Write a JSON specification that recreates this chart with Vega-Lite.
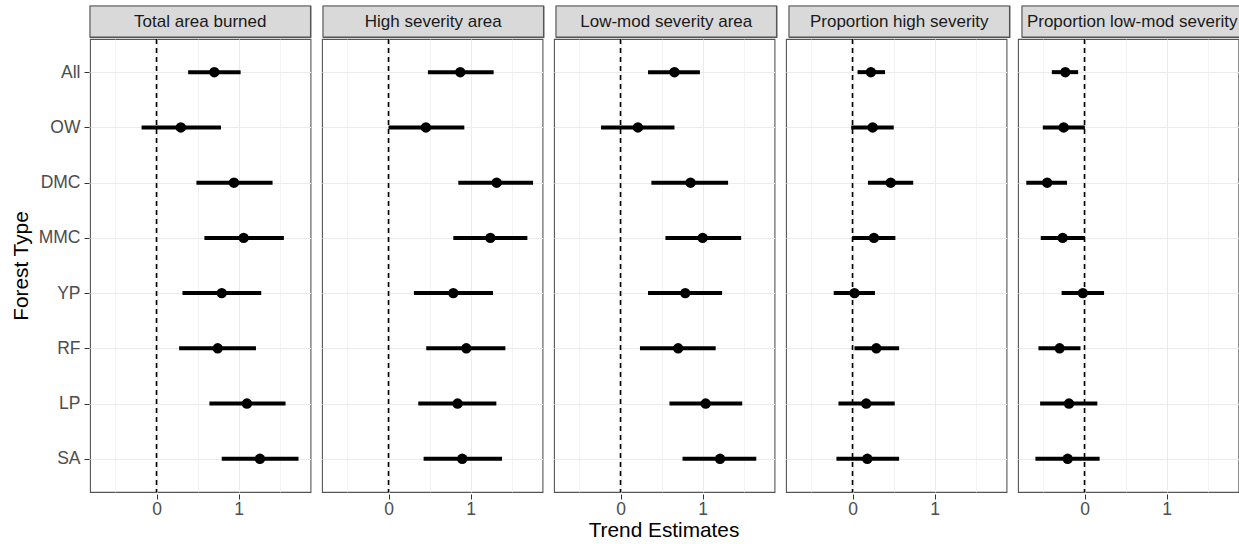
{
  "$schema": "https://vega.github.io/schema/vega-lite/v6.json",
  "padding": {"left": 7, "top": 4, "right": 0, "bottom": 0},
  "background": "white",
  "config": {
    "font": "Liberation Sans",
    "view": {"stroke": "#555555", "strokeWidth": 1.1, "fill": "white"}
  },
  "spacing": -10,
  "vconcat": [
    {
      "data": {"values": [
        {"panel": "Total area burned", "s": "strip"},
        {"panel": "High severity area", "s": "strip"},
        {"panel": "Low-mod severity area", "s": "strip"},
        {"panel": "Proportion high severity", "s": "strip"},
        {"panel": "Proportion low-mod severity", "s": "strip"}
      ]},
      "facet": {"column": {"field": "panel", "type": "nominal", "header": null,
        "sort": ["Total area burned", "High severity area", "Low-mod severity area", "Proportion high severity", "Proportion low-mod severity"]}},
      "spacing": {"column": 9},
      "spec": {
        "width": 220.5,
        "height": 31,
        "encoding": {
          "y": {"field": "s", "type": "nominal",
            "scale": {"paddingInner": 0, "paddingOuter": 0},
            "axis": {"title": null, "labels": false, "ticks": true, "tickSize": 81, "tickOpacity": 0, "domain": false, "grid": false}}
        },
        "layer": [
          {"mark": {"type": "rect", "fill": "#d9d9d9", "stroke": "#555555", "strokeWidth": 1.1}},
          {"mark": {"type": "text", "fontSize": 17, "color": "#1a1a1a", "baseline": "middle"},
           "encoding": {"text": {"field": "panel"}}}
        ]
      }
    },
    {
      "data": {"values": [
        {"panel": "Total area burned", "type": "All", "lo": 0.385, "est": 0.704, "hi": 1.024},
        {"panel": "Total area burned", "type": "OW", "lo": -0.182, "est": 0.296, "hi": 0.785},
        {"panel": "Total area burned", "type": "DMC", "lo": 0.486, "est": 0.943, "hi": 1.413},
        {"panel": "Total area burned", "type": "MMC", "lo": 0.583, "est": 1.061, "hi": 1.551},
        {"panel": "Total area burned", "type": "YP", "lo": 0.316, "est": 0.794, "hi": 1.275},
        {"panel": "Total area burned", "type": "RF", "lo": 0.275, "est": 0.745, "hi": 1.211},
        {"panel": "Total area burned", "type": "LP", "lo": 0.644, "est": 1.101, "hi": 1.571},
        {"panel": "Total area burned", "type": "SA", "lo": 0.794, "est": 1.259, "hi": 1.729},
        {"panel": "High severity area", "type": "All", "lo": 0.48, "est": 0.874, "hi": 1.28},
        {"panel": "High severity area", "type": "OW", "lo": 0.0, "est": 0.455, "hi": 0.923},
        {"panel": "High severity area", "type": "DMC", "lo": 0.85, "est": 1.317, "hi": 1.76},
        {"panel": "High severity area", "type": "MMC", "lo": 0.789, "est": 1.24, "hi": 1.691},
        {"panel": "High severity area", "type": "YP", "lo": 0.309, "est": 0.789, "hi": 1.272},
        {"panel": "High severity area", "type": "RF", "lo": 0.459, "est": 0.947, "hi": 1.423},
        {"panel": "High severity area", "type": "LP", "lo": 0.362, "est": 0.841, "hi": 1.313},
        {"panel": "High severity area", "type": "SA", "lo": 0.427, "est": 0.898, "hi": 1.382},
        {"panel": "Low-mod severity area", "type": "All", "lo": 0.335, "est": 0.657, "hi": 0.967},
        {"panel": "Low-mod severity area", "type": "OW", "lo": -0.237, "est": 0.212, "hi": 0.657},
        {"panel": "Low-mod severity area", "type": "DMC", "lo": 0.376, "est": 0.853, "hi": 1.31},
        {"panel": "Low-mod severity area", "type": "MMC", "lo": 0.547, "est": 1.0, "hi": 1.469},
        {"panel": "Low-mod severity area", "type": "YP", "lo": 0.335, "est": 0.788, "hi": 1.237},
        {"panel": "Low-mod severity area", "type": "RF", "lo": 0.237, "est": 0.702, "hi": 1.159},
        {"panel": "Low-mod severity area", "type": "LP", "lo": 0.596, "est": 1.037, "hi": 1.482},
        {"panel": "Low-mod severity area", "type": "SA", "lo": 0.755, "est": 1.212, "hi": 1.653},
        {"panel": "Proportion high severity", "type": "All", "lo": 0.061, "est": 0.224, "hi": 0.396},
        {"panel": "Proportion high severity", "type": "OW", "lo": -0.016, "est": 0.245, "hi": 0.502},
        {"panel": "Proportion high severity", "type": "DMC", "lo": 0.188, "est": 0.465, "hi": 0.739},
        {"panel": "Proportion high severity", "type": "MMC", "lo": -0.004, "est": 0.261, "hi": 0.522},
        {"panel": "Proportion high severity", "type": "YP", "lo": -0.229, "est": 0.024, "hi": 0.273},
        {"panel": "Proportion high severity", "type": "RF", "lo": 0.024, "est": 0.29, "hi": 0.567},
        {"panel": "Proportion high severity", "type": "LP", "lo": -0.171, "est": 0.167, "hi": 0.514},
        {"panel": "Proportion high severity", "type": "SA", "lo": -0.196, "est": 0.18, "hi": 0.567},
        {"panel": "Proportion low-mod severity", "type": "All", "lo": -0.398, "est": -0.234, "hi": -0.078},
        {"panel": "Proportion low-mod severity", "type": "OW", "lo": -0.508, "est": -0.254, "hi": 0.004},
        {"panel": "Proportion low-mod severity", "type": "DMC", "lo": -0.709, "est": -0.455, "hi": -0.213},
        {"panel": "Proportion low-mod severity", "type": "MMC", "lo": -0.533, "est": -0.266, "hi": 0.004},
        {"panel": "Proportion low-mod severity", "type": "YP", "lo": -0.279, "est": -0.02, "hi": 0.238},
        {"panel": "Proportion low-mod severity", "type": "RF", "lo": -0.561, "est": -0.303, "hi": -0.049},
        {"panel": "Proportion low-mod severity", "type": "LP", "lo": -0.541, "est": -0.189, "hi": 0.156},
        {"panel": "Proportion low-mod severity", "type": "SA", "lo": -0.598, "est": -0.205, "hi": 0.184}
      ]},
      "facet": {"column": {"field": "panel", "type": "nominal",
        "header": {"labels": false, "title": "Trend Estimates", "titleOrient": "bottom", "titleFontSize": 20.8,
          "titleFontWeight": "normal", "titleColor": "black", "titlePadding": -7},
        "sort": ["Total area burned", "High severity area", "Low-mod severity area", "Proportion high severity", "Proportion low-mod severity"]}},
      "spacing": {"column": 9},
      "spec": {
        "width": 220.5,
        "height": 453,
        "layer": [
          {
            "transform": [{"filter": "datum.type == 'All'"}],
            "mark": {"type": "rule", "strokeDash": [5, 4], "strokeWidth": 1.6, "color": "black"},
            "encoding": {
              "x": {"datum": 0, "type": "quantitative", "title": null,
                "scale": {"domain": [-0.81, 1.875], "nice": false, "zero": false},
                "axis": {"values": [-0.5, 0, 0.5, 1, 1.5], "grid": true, "title": null,
                  "labelExpr": "datum.value == 0 ? '0' : datum.value == 1 ? '1' : ''",
                  "tickOpacity": {"expr": "datum.value == 0 || datum.value == 1 ? 1 : 0"},
                  "gridWidth": {"expr": "datum.value == 0 || datum.value == 1 ? 1.1 : 0.6"},
                  "gridColor": "#ebebeb", "domain": false, "tickColor": "#333333", "tickSize": 5,
                  "labelFontSize": 17.5, "labelColor": "#4d4d4d", "labelPadding": 1, "labelFlush": false, "labelOverlap": false}}
            }
          },
          {
            "mark": {"type": "rule", "strokeWidth": 4, "color": "black"},
            "encoding": {
              "x": {"field": "lo", "type": "quantitative", "title": null},
              "x2": {"field": "hi"},
              "y": {"field": "type", "type": "nominal", "sort": ["All", "OW", "DMC", "MMC", "YP", "RF", "LP", "SA"],
                "scale": {"type": "point", "padding": 0.6},
                "axis": {"title": "Forest Type", "titleFontSize": 20.8, "titleFontWeight": "normal", "titleColor": "black", "titlePadding": 7,
                  "labelFontSize": 17.5, "labelColor": "#4d4d4d", "labelPadding": 4, "tickColor": "#333333", "tickSize": 5,
                  "domain": false, "grid": true, "gridColor": "#ebebeb", "gridWidth": 1.1, "minExtent": 51, "maxExtent": 51}}
            }
          },
          {
            "mark": {"type": "point", "filled": true, "size": 110, "color": "black", "opacity": 1},
            "encoding": {
              "x": {"field": "est", "type": "quantitative", "title": null},
              "y": {"field": "type", "type": "nominal", "sort": ["All", "OW", "DMC", "MMC", "YP", "RF", "LP", "SA"], "title": "Forest Type"}
            }
          }
        ]
      }
    }
  ]
}
